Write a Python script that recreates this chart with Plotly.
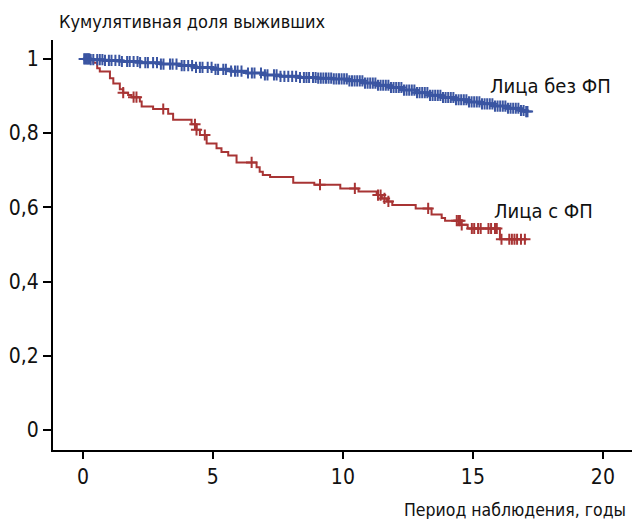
import numpy as np
import plotly.graph_objects as go

# ---- data ----
# Лица с ФП : Kaplan–Meier step points (time in years, cumulative survival)
red_t = [0.0, 0.40, 0.55, 0.65, 1.04, 1.17, 1.42, 1.55, 1.74, 1.87, 2.19, 2.26, 2.70,
         3.28, 3.47, 4.18, 4.37, 4.50, 4.76, 5.14, 5.33, 5.59, 5.91, 6.68, 6.80, 6.92,
         7.20, 8.09, 8.90, 9.90, 10.60, 11.30, 11.50, 11.70, 11.90, 12.80, 13.41, 13.80,
         13.93, 14.55, 14.80, 16.04, 17.06]
red_s = [1.000, 0.990, 0.975, 0.966, 0.948, 0.934, 0.918, 0.909, 0.903, 0.897, 0.885, 0.872, 0.865,
         0.852, 0.836, 0.824, 0.809, 0.795, 0.772, 0.759, 0.749, 0.740, 0.721, 0.708, 0.696, 0.687,
         0.682, 0.666, 0.661, 0.651, 0.643, 0.633, 0.624, 0.616, 0.606, 0.597, 0.581, 0.571,
         0.564, 0.553, 0.543, 0.514, 0.514]
red_cens = [1.55, 1.95, 2.06, 3.09, 4.31, 4.37, 4.69, 6.49, 9.12, 10.46, 11.35, 11.45, 11.60,
            11.75, 13.28, 14.38, 14.45, 14.50, 14.57, 14.96, 15.05, 15.20, 15.30, 15.60, 15.70,
            15.85, 15.92, 16.10, 16.40, 16.50, 16.60, 16.70, 16.85, 17.00]

# Лица без ФП
blue_t = [0.0, 0.3, 0.8, 1.5, 2.2, 3.0, 3.7, 4.3, 5.0, 5.7, 6.3, 7.0, 7.6, 8.3, 9.0, 9.6,
          10.2, 10.8, 11.3, 11.8, 12.3, 12.8, 13.3, 13.8, 14.3, 14.8, 15.3, 15.8, 16.3,
          16.8, 17.0, 17.1]
blue_s = [1.000, 0.998, 0.996, 0.993, 0.990, 0.986, 0.982, 0.977, 0.972, 0.967, 0.962, 0.957,
          0.953, 0.950, 0.948, 0.946, 0.941, 0.935, 0.929, 0.923, 0.916, 0.909, 0.902, 0.896,
          0.890, 0.884, 0.879, 0.873, 0.867, 0.861, 0.858, 0.858]
blue_cens = [0.05, 0.10, 0.15, 0.20, 0.25, 0.30, 0.40, 0.55, 0.65, 0.75, 0.85, 1.00, 1.10, 1.25,
             1.40, 1.50, 1.70, 1.80, 1.95, 2.10, 2.20, 2.40, 2.50, 2.70, 2.85, 3.00, 3.10, 3.35,
             3.45, 3.60, 3.80, 3.90, 4.05, 4.20, 4.35, 4.50, 4.60, 4.80, 4.95, 5.10, 5.20, 5.40,
             5.50, 5.70, 5.85, 5.95, 6.10, 6.35, 6.50, 6.60, 6.85, 7.00, 7.10, 7.35, 7.45, 7.60,
             7.75, 7.90, 8.05, 8.20, 8.35, 8.50, 8.60, 8.70, 8.85, 8.95, 9.05, 9.15, 9.25, 9.35,
             9.45, 9.55, 9.65, 9.75, 9.85, 9.95, 10.05, 10.15, 10.25, 10.35, 10.45, 10.55, 10.65,
             10.75, 10.85, 10.95, 11.05, 11.15, 11.25, 11.35, 11.45, 11.55, 11.65, 11.75, 11.85,
             11.95, 12.05, 12.15, 12.25, 12.35, 12.45, 12.55, 12.65, 12.75, 12.85, 12.95, 13.05,
             13.15, 13.25, 13.35, 13.45, 13.55, 13.65, 13.75, 13.85, 13.95, 14.05, 14.15, 14.25,
             14.35, 14.45, 14.55, 14.65, 14.75, 14.85, 14.95, 15.05, 15.15, 15.25, 15.35, 15.45,
             15.55, 15.65, 15.75, 15.85, 15.95, 16.05, 16.15, 16.25, 16.35, 16.45, 16.55, 16.65,
             16.75, 16.85, 16.95, 17.05, 17.10]

x_ticks = [0, 5, 10, 15, 20]
y_ticks = [0, 0.2, 0.4, 0.6, 0.8, 1]

RED = "#A83434"
BLUE = "#3A55A2"
FONT = "'DejaVu Sans Condensed', 'Roboto Condensed', 'Liberation Sans Narrow', Roboto, sans-serif"


def step_at(times, surv, pts):
    idx = np.searchsorted(np.asarray(times), np.asarray(pts), side="right") - 1
    return np.asarray(surv)[np.clip(idx, 0, len(surv) - 1)]


fig = go.Figure()

fig.add_trace(go.Scatter(x=red_t, y=red_s, mode="lines", line=dict(color=RED, width=2, shape="hv"),
                         showlegend=False, hoverinfo="skip"))
fig.add_trace(go.Scatter(x=red_cens, y=step_at(red_t, red_s, red_cens), mode="markers",
                         marker=dict(symbol="cross-thin", size=8, line=dict(color=RED, width=2)),
                         showlegend=False, hoverinfo="skip"))
fig.add_trace(go.Scatter(x=blue_t, y=blue_s, mode="lines", line=dict(color=BLUE, width=3, shape="hv"),
                         showlegend=False, hoverinfo="skip"))
fig.add_trace(go.Scatter(x=blue_cens, y=step_at(blue_t, blue_s, blue_cens), mode="markers",
                         marker=dict(symbol="cross-thin", size=8, line=dict(color=BLUE, width=2)),
                         showlegend=False, hoverinfo="skip"))

fig.update_layout(
    width=632, height=519,
    margin=dict(l=53, r=0, t=40, b=69),
    paper_bgcolor="white", plot_bgcolor="white",
    separators=", ",
    font=dict(family=FONT, size=20, color="#111111"),
    xaxis=dict(range=[-1.15, 21.12], tickvals=x_ticks, showgrid=False, zeroline=False,
               showline=True, linecolor="black", linewidth=2, ticks="outside", ticklen=7,
               tickwidth=2, tickcolor="black", tickfont=dict(family=FONT, size=21)),
    yaxis=dict(range=[-0.054, 1.051], tickvals=y_ticks, showgrid=False, zeroline=False,
               showline=True, linecolor="black", linewidth=2, ticks="outside", ticklen=8,
               tickwidth=2, tickcolor="black", tickfont=dict(family=FONT, size=21)),
    annotations=[
        dict(text="Кумулятивная доля выживших", xref="paper", yref="paper", x=0.007, y=1.046,
             xanchor="left", yanchor="middle", showarrow=False, font=dict(family=FONT, size=18)),
        dict(text="Период наблюдения, годы", xref="paper", yref="paper", x=0.993, y=-0.146,
             xanchor="right", yanchor="middle", showarrow=False, font=dict(family=FONT, size=17.5)),
        dict(text="Лица без ФП", xref="paper", yref="paper", x=0.751, y=0.888,
             xanchor="left", yanchor="middle", showarrow=False, font=dict(family=FONT, size=20)),
        dict(text="Лица с ФП", xref="paper", yref="paper", x=0.758, y=0.583,
             xanchor="left", yanchor="middle", showarrow=False, font=dict(family=FONT, size=20)),
    ],
)

fig.write_html("out.html", config={"displayModeBar": False},
               post_script="document.body.style.margin='0';")
